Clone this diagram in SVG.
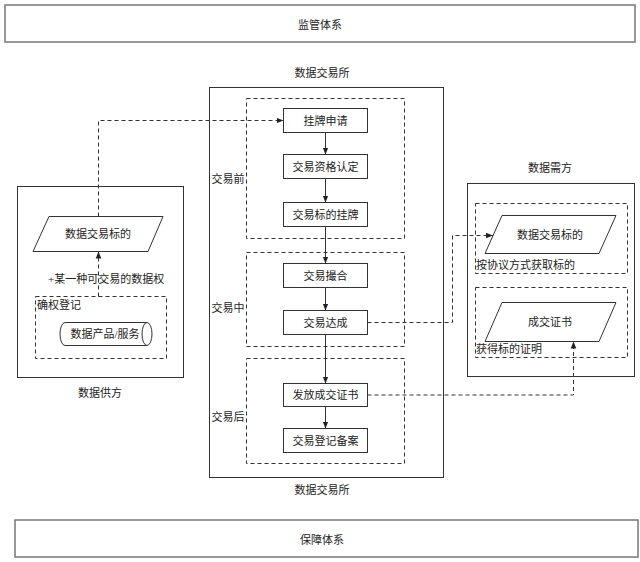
<svg xmlns="http://www.w3.org/2000/svg" width="640" height="562" viewBox="0 0 640 562">
<style>
text{font-family:"Liberation Serif","Noto Sans CJK SC",serif;font-size:11px;fill:#222;dominant-baseline:central}
.c{text-anchor:middle}
.frame{fill:none;stroke:#333;stroke-width:1}
.band{fill:#fff;stroke:#777;stroke-width:1.5}
.box{fill:#fff;stroke:#333;stroke-width:1}
.dash{fill:none;stroke:#333;stroke-width:1;stroke-dasharray:4 3}
.ln{fill:none;stroke:#333;stroke-width:1}
.dl{fill:none;stroke:#333;stroke-width:1;stroke-dasharray:4 3}
</style>
<defs>
<marker id="ah" viewBox="0 0 10 10" refX="10" refY="5" markerWidth="7" markerHeight="7" orient="auto" markerUnits="userSpaceOnUse"><path d="M0,1 L10,5 L0,9 z" fill="#222"/></marker>
</defs>
<rect width="640" height="562" fill="#fff"/>
<g id="supervision"><rect class="band" x="5" y="5" width="630" height="37"/><text class="c" x="320" y="25">监管体系</text></g>
<g id="guarantee"><rect class="band" x="15" y="520" width="623" height="37"/><text class="c" x="322" y="540">保障体系</text></g>

<g id="exchange">
<text class="c" x="322" y="73">数据交易所</text>
<rect class="frame" x="209.5" y="87.5" width="234" height="390"/>
<text class="c" x="322" y="490">数据交易所</text>
<rect class="dash" x="246.5" y="98.5" width="158" height="140"/>
<text class="c" x="228" y="179">交易前</text>
<rect class="dash" x="246.5" y="252.5" width="158" height="94"/>
<text class="c" x="228" y="308">交易中</text>
<rect class="dash" x="246.5" y="358.5" width="158" height="105"/>
<text class="c" x="228" y="417">交易后</text>
</g>
<g id="n1"><rect class="box" x="283.5" y="108.5" width="84" height="24"/><text class="c" x="325.5" y="120.5">挂牌申请</text></g>
<g id="n2"><rect class="box" x="283.5" y="154.5" width="84" height="24"/><text class="c" x="325.5" y="166.5">交易资格认定</text></g>
<g id="n3"><rect class="box" x="283.5" y="202.5" width="84" height="24"/><text class="c" x="325.5" y="214.5">交易标的挂牌</text></g>
<g id="n4"><rect class="box" x="283.5" y="263.5" width="84" height="24"/><text class="c" x="325.5" y="275.5">交易撮合</text></g>
<g id="n5"><rect class="box" x="283.5" y="310.5" width="84" height="24"/><text class="c" x="325.5" y="322.5">交易达成</text></g>
<g id="n6"><rect class="box" x="283.5" y="383.5" width="84" height="23"/><text class="c" x="325.5" y="395">发放成交证书</text></g>
<g id="n7"><rect class="box" x="283.5" y="428.5" width="84" height="24"/><text class="c" x="325.5" y="440.5">交易登记备案</text></g>

<g id="supplier">
<rect class="frame" x="17.5" y="186.5" width="166" height="191"/>
<text class="c" x="100" y="393">数据供方</text>
<polygon class="box" points="49,216.5 163,216.5 148,251.5 33,251.5"/>
<text class="c" x="98" y="234">数据交易标的</text>
<text x="48" y="279">+某一种可交易的数据权</text>
<rect class="dash" x="35.5" y="296.5" width="131" height="62"/>
<text x="37" y="305">确权登记</text>
<path class="box" d="M65,322.5 L147,322.5 A5,11.5 0 0 1 147,345.5 L65,345.5 A5,11.5 0 0 1 65,322.5 Z"/>
<path class="ln" d="M147,322.5 A5,11.5 0 0 0 147,345.5"/>
<text class="c" x="105" y="334">数据产品/服务</text>
</g>

<g id="demand">
<rect class="frame" x="467.5" y="183.5" width="167" height="193"/>
<text class="c" x="550" y="168">数据需方</text>
<rect class="dash" x="475.5" y="203.5" width="152" height="70"/>
<polygon class="box" points="502,215.5 616,215.5 599,253.5 485,253.5"/>
<text class="c" x="550" y="235">数据交易标的</text>
<text x="476" y="265">按协议方式获取标的</text>
<rect class="dash" x="475.5" y="287.5" width="152" height="70"/>
<polygon class="box" points="502,302.5 616,302.5 599,341.5 485,341.5"/>
<text class="c" x="550" y="322">成交证书</text>
<text x="476" y="349">获得标的证明</text>
</g>

<g id="connectors">
<path class="ln" d="M325.5,132.5 V154.5" marker-end="url(#ah)"/>
<path class="ln" d="M325.5,178.5 V202.5" marker-end="url(#ah)"/>
<path class="ln" d="M325.5,226.5 V263.5" marker-end="url(#ah)"/>
<path class="ln" d="M325.5,287.5 V310.5" marker-end="url(#ah)"/>
<path class="ln" d="M325.5,334.5 V383.5" marker-end="url(#ah)"/>
<path class="ln" d="M325.5,406.5 V428.5" marker-end="url(#ah)"/>
<path class="dl" d="M98.5,296.5 V251.5" marker-end="url(#ah)"/>
<path class="dl" d="M98.5,216.5 V120.5 H283.5" marker-end="url(#ah)"/>
<path class="dl" d="M367.5,322.5 H452.5 V235.5 H493" marker-end="url(#ah)"/>
<path class="dl" d="M367.5,395 H573.5 V341.5" marker-end="url(#ah)"/>
</g>
</svg>
